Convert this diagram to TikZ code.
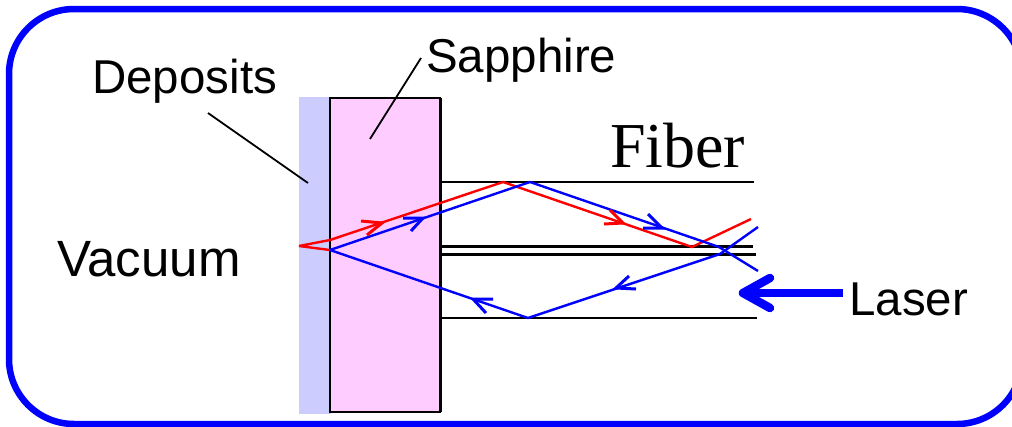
\documentclass[tikz,border=0pt]{standalone}
\usepackage{fontspec}
\setmainfont{Liberation Sans}
\newfontfamily\serifface{Liberation Serif}
\definecolor{depcol}{RGB}{204,204,255}
\definecolor{sapcol}{RGB}{255,204,255}
\definecolor{rayblue}{RGB}{0,0,255}
\definecolor{rayred}{RGB}{255,0,0}
\tikzset{
  frameline/.style={draw=rayblue,line width=6.5pt,rounded corners=65pt},
  fiberline/.style={draw=black,line width=2.8pt},
  leader/.style={draw=black,line width=1.8pt},
  blueray/.style={draw=rayblue,line width=2.4pt,line join=bevel},
  redray/.style={draw=rayred,line width=2.4pt,line join=bevel},
  bluetip/.style={draw=rayblue,line width=3pt},
  redtip/.style={draw=rayred,line width=3pt},
  lasertip/.style={draw=rayblue,line width=8.5pt,line cap=round,line join=round},
  label/.style={anchor=base west,inner sep=0pt,font=\fontsize{47.5}{50}\selectfont}
}
\begin{document}
\begin{tikzpicture}[x=1pt,y=-1pt]
\useasboundingbox (0,0) rectangle (1012,426);
\clip (0,0) rectangle (1012,426);
\draw[frameline] (9,9) rectangle (1022,424);
% solid blocks
\fill[depcol] (299,97) rectangle (331,414);
\node[draw=black,line width=1.8pt,fill=sapcol,inner sep=0pt,anchor=north west,outer sep=0pt,
      minimum width=110pt,minimum height=314pt] (sapphire) at (330,98) {};
\draw[draw=black,line width=3pt] (sapphire.north east) -- (sapphire.south east);
% fiber walls
\coordinate (f1a) at (440,182);   \coordinate (f1b) at (754,182);
\coordinate (f2a) at (440,246.5); \coordinate (f2b) at (753,246.5);
\coordinate (f3a) at (440,254.5); \coordinate (f3b) at (756,254.5);
\coordinate (f4a) at (440,318);   \coordinate (f4b) at (757,318);
\draw[fiberline] (f1a) -- (f1b);
\draw[fiberline] (f2a) -- (f2b);
\draw[fiberline] (f3a) -- (f3b);
\draw[fiberline] (f4a) -- (f4b);
% labels
\node[label] (deposits) at (92,93) {Deposits};
\node[label] (sapphirelabel) at (426,72) {Sapphire};
\node[label,font=\fontsize{51}{53}\selectfont] (vacuum) at (57,276) {Vacuum};
\node[label] (laser) at (849,315) {Laser};
\node[label,font=\fontsize{64}{66}\selectfont\serifface] (fiber) at (610,167) {Fiber};
% leaders
\coordinate (d1) at (208,113); \coordinate (d2) at (308,183);
\coordinate (s1) at (421,58);  \coordinate (s2) at (370,139);
\draw[leader] (d1) -- (d2);
\draw[leader] (s1) -- (s2);
% ray points
\coordinate (focus) at (299,246);
\coordinate (rA) at (330,240);
\coordinate (rB) at (503,182);
\coordinate (rC) at (692,247);
\coordinate (rD) at (751,219);
\coordinate (bO) at (330,250);
\coordinate (bA) at (530,182);
\coordinate (bB) at (719,247);
\coordinate (bC) at (758,271);
\coordinate (bD) at (528,318);
\coordinate (bE) at (720,254);
\coordinate (bF) at (758,227);
\draw[redray] (bO) -- (focus) -- (rA) -- (rB) -- (rC) -- (rD);
\draw[blueray] (bO) -- (bA) -- (bB) -- (bC);
\draw[blueray] (bO) -- (bD) -- (bE) -- (bF);
% open arrow heads
\draw[redtip] (361,221) -- (382,223) -- (367,235);
\draw[redtip] (604,224) -- (623,223) -- (610,210);
\draw[bluetip] (403,218) -- (423,218) -- (411,231);
\draw[bluetip] (643,228) -- (662,228) -- (648,214);
\draw[bluetip] (493,299) -- (473,299) -- (486,313);
\draw[bluetip] (636,289) -- (616,288) -- (629,276);
% laser arrow
\coordinate (lasertail) at (843,293);
\coordinate (laserhead) at (743,293);
\draw[draw=rayblue,line width=8pt] (lasertail) -- (laserhead);
\draw[lasertip] (770,278) -- (743,293) -- (770,308);
\end{tikzpicture}
\end{document}
